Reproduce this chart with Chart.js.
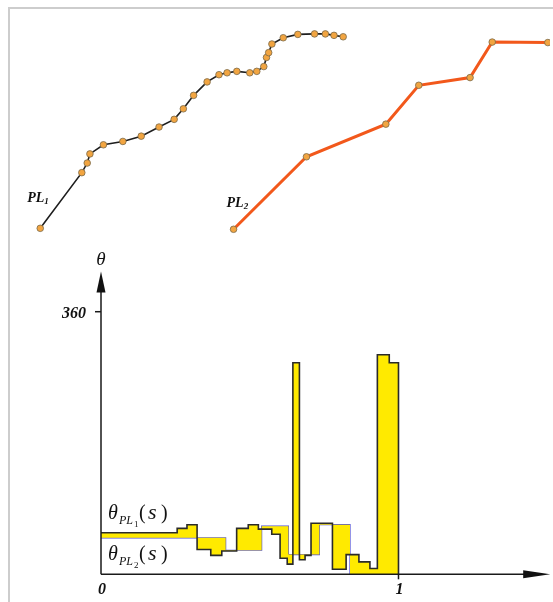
<!DOCTYPE html>
<html lang="en">
<head>
<meta charset="UTF-8">
<title>Turning functions of two polylines</title>
<script src="https://cdn.jsdelivr.net/npm/chart.js"></script>
<style>
  html, body { margin: 0; padding: 0; background: #fff; }
  body { width: 553px; height: 602px; position: relative; overflow: hidden; }
  .frame { position: absolute; left: 8px; top: 7px; width: 600px; height: 650px;
           border-left: 2px solid #cdcdcd; border-top: 2px solid #cdcdcd; }
  #shapes { position: absolute; left: 10px; top: 8px; }
  #turning { position: absolute; left: 10px; top: 248px; }
</style>
</head>
<body>
<div class="frame"></div>
<canvas id="shapes" width="540" height="240"></canvas>
<canvas id="turning" width="543" height="354"></canvas>

<script>
// polyline vertices (drawing units, x 0-100, y 0-50)
const pl1X = [5.6, 13.3, 14.3, 14.8, 17.3, 20.9, 24.3, 27.6, 30.4, 32.1, 34.0, 36.5, 38.7, 40.2, 42.0, 44.4, 45.7, 47.0, 47.5, 47.9, 48.5, 50.6, 53.3, 56.4, 58.4, 60.0, 61.7];
const pl1Y = [4.1, 15.7, 17.7, 19.6, 21.5, 22.2, 23.3, 25.2, 26.8, 29.0, 31.8, 34.6, 36.1, 36.5, 36.8, 36.5, 36.8, 37.8, 39.7, 40.7, 42.5, 43.8, 44.5, 44.6, 44.6, 44.3, 44.0];
const pl2X = [41.4, 54.9, 69.6, 75.7, 85.2, 89.3, 99.6];
const pl2Y = [3.9, 19.0, 25.8, 33.9, 35.5, 42.9, 42.8];

// turning functions: arc length s where each step starts, and its angle
const s1 = [0, 0.256, 0.289, 0.323, 0.369, 0.406, 0.456, 0.495, 0.529, 0.574, 0.602, 0.626, 0.645, 0.667, 0.686, 0.706, 0.778, 0.824, 0.867, 0.904, 0.929, 0.969, 1, 1];
const theta1 = [57, 63, 68, 34, 26, 32, 63, 68, 62, 55, 22, 14, 290, 20, 26, 70, 7, 27, 17, 8, 301, 290, 290, 0];
const s2 = [0, 0.419, 0.540, 0.630, 0.734, 0.837, 1];
const theta2 = [50, 33, 66, 27, 68, 0, 0];

const xTickValues = [0, 1];
const xTickLabels = ['0', '1'];
const yTickValues = [360];
const yTickLabels = ['360'];

const SERIF = '"Liberation Serif", "DejaVu Serif", serif';

function toPoints(xs, ys) {
  return xs.map((v, i) => ({ x: v, y: ys[i] }));
}

// ---------- top: the two polylines ----------
const shapeLabels = {
  id: 'shapeLabels',
  afterDraw(chart) {
    const { ctx, scales: { x, y } } = chart;
    ctx.save();
    ctx.fillStyle = '#111';
    const lab = (num, px, py) => {
      ctx.font = 'bold italic 14px ' + SERIF;
      ctx.fillText('PL', px, py);
      const w = ctx.measureText('PL').width;
      ctx.font = 'bold italic 9px ' + SERIF;
      ctx.fillText(num, px + w, py + 2);
    };
    lab('1', x.getPixelForValue(pl1X[0]) - 13, y.getPixelForValue(pl1Y[0]) - 26);
    lab('2', x.getPixelForValue(pl2X[0]) - 7, y.getPixelForValue(pl2Y[0]) - 22);
    ctx.restore();
  }
};

new Chart(document.getElementById('shapes'), {
  type: 'scatter',
  data: {
    datasets: [
      {
        data: toPoints(pl2X, pl2Y),
        showLine: true,
        borderColor: '#f2581b',
        borderWidth: 3,
        pointRadius: 3.3,
        pointBackgroundColor: '#f2a541',
        pointBorderColor: '#7a6a4a',
        pointBorderWidth: 0.8,
        clip: false
      },
      {
        data: toPoints(pl1X, pl1Y),
        showLine: true,
        borderColor: '#1e1e1e',
        borderWidth: 1.6,
        pointRadius: 3.3,
        pointBackgroundColor: '#f2a541',
        pointBorderColor: '#7a6a4a',
        pointBorderWidth: 0.8,
        clip: false
      }
    ]
  },
  options: {
    responsive: false,
    animation: false,
    events: [],
    layout: { padding: 0, autoPadding: false },
    plugins: { legend: { display: false }, tooltip: { enabled: false } },
    scales: {
      x: { type: 'linear', display: false, min: 0, max: 100 },
      y: { type: 'linear', display: false, min: 0, max: 50 }
    }
  },
  plugins: [shapeLabels]
});

// ---------- bottom: turning functions ----------
const axisArrows = {
  id: 'axisArrows',
  afterDraw(chart) {
    const { ctx, chartArea, scales: { x, y } } = chart;
    const x0 = x.getPixelForValue(0);
    const y0 = y.getPixelForValue(0);
    ctx.save();
    ctx.strokeStyle = '#1a1a1a';
    ctx.fillStyle = '#111';
    ctx.lineWidth = 1.5;

    // axis lines
    ctx.beginPath();
    ctx.moveTo(x0, y0);
    ctx.lineTo(chartArea.right - 20, y0);
    ctx.moveTo(x0, y0);
    ctx.lineTo(x0, chartArea.top + 16);
    ctx.stroke();

    // arrow heads
    ctx.beginPath();
    ctx.moveTo(chartArea.right, y0);
    ctx.lineTo(chartArea.right - 27, y0 - 4);
    ctx.lineTo(chartArea.right - 27, y0 + 4);
    ctx.closePath();
    ctx.fill();
    ctx.beginPath();
    ctx.moveTo(x0, chartArea.top);
    ctx.lineTo(x0 - 4.5, chartArea.top + 21);
    ctx.lineTo(x0 + 4.5, chartArea.top + 21);
    ctx.closePath();
    ctx.fill();

    // ticks and tick labels
    ctx.font = 'bold italic 16px ' + SERIF;
    ctx.textAlign = 'center';
    ctx.textBaseline = 'alphabetic';
    xTickValues.forEach((v, i) => {
      const px = x.getPixelForValue(v);
      if (v > 0) {
        ctx.beginPath();
        ctx.moveTo(px, y0);
        ctx.lineTo(px, y0 + 5);
        ctx.stroke();
      }
      ctx.fillText(xTickLabels[i], px + 1, y0 + 20);
    });
    ctx.textAlign = 'right';
    yTickValues.forEach((v, i) => {
      const py = y.getPixelForValue(v);
      ctx.beginPath();
      ctx.moveTo(x0 - 6, py);
      ctx.lineTo(x0, py);
      ctx.stroke();
      ctx.fillText(yTickLabels[i], x0 - 15, py + 6);
    });

    // axis name
    ctx.textAlign = 'center';
    ctx.font = 'italic 19px ' + SERIF;
    ctx.fillText('θ', x0, chartArea.top - 7);

    // curve names  θ_{PL_n}(s)
    ctx.textAlign = 'left';
    const curveName = (num, px, py) => {
      ctx.font = 'italic 20px ' + SERIF;
      ctx.fillText('θ', px, py);
      ctx.font = 'italic 12px ' + SERIF;
      ctx.fillText('PL', px + 11, py + 5);
      ctx.font = '9px ' + SERIF;
      ctx.fillText(num, px + 26, py + 8);
      ctx.font = '20px ' + SERIF;
      ctx.fillText('(', px + 31, py);
      ctx.font = 'italic 22px ' + SERIF;
      ctx.fillText('s', px + 40, py);
      ctx.font = '20px ' + SERIF;
      ctx.fillText(')', px + 53, py);
    };
    curveName('1', x0 + 7, y.getPixelForValue(76));
    curveName('2', x0 + 7, y.getPixelForValue(20));
    ctx.restore();
  }
};

new Chart(document.getElementById('turning'), {
  type: 'line',
  data: {
    datasets: [
      {
        data: toPoints(s1, theta1),
        stepped: 'before',
        borderColor: '#2a2a2a',
        borderWidth: 1.6,
        pointRadius: 0,
        fill: '+1',
        backgroundColor: '#ffea00',
        clip: false
      },
      {
        data: toPoints(s2, theta2),
        stepped: 'before',
        borderColor: '#4b4bd6',
        borderWidth: 1.2,
        pointRadius: 0,
        fill: false,
        clip: false
      }
    ]
  },
  options: {
    responsive: false,
    animation: false,
    events: [],
    layout: { padding: { left: 91, right: 2.8, top: 23.6, bottom: 27.7 }, autoPadding: false },
    plugins: { legend: { display: false }, tooltip: { enabled: false } },
    scales: {
      x: { type: 'linear', display: false, min: 0, max: 1.51 },
      y: { type: 'linear', display: false, min: 0, max: 415 }
    }
  },
  plugins: [axisArrows]
});
</script>
</body>
</html>
